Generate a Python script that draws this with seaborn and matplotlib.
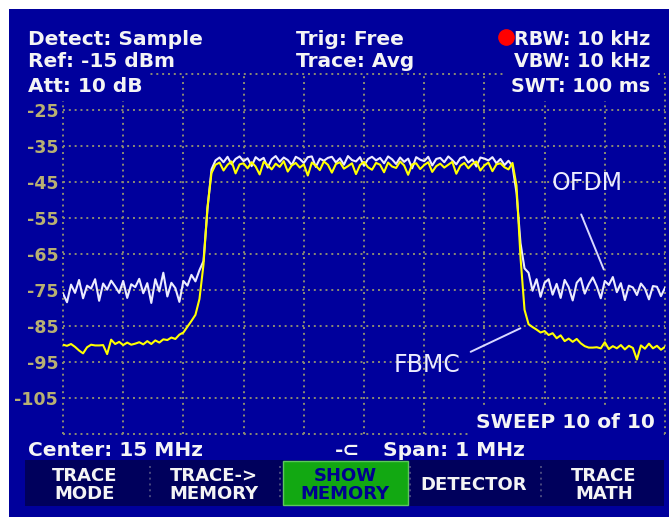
import numpy as np
import pandas as pd
import seaborn as sns
import matplotlib.pyplot as plt
from matplotlib.patches import Rectangle

# sweep: center 15 MHz, span 1 MHz, 151 trace points
freq_mhz = np.linspace(14.5, 15.5, 151)

fbmc_db = [
    -90.2, -90.5, -90.0, -90.8, -91.8, -92.6, -90.9, -90.2, -90.4, -90.4,
    -90.3, -92.8, -88.8, -90.0, -89.4, -90.3, -89.6, -90.2, -89.9, -89.5,
    -90.1, -89.2, -90.0, -89.0, -89.6, -88.7, -88.9, -88.2, -88.6, -87.4,
    -86.8, -85.2, -83.6, -81.9, -77.5, -68.0, -52.0, -42.5, -40.2,
    -39.6, -41.8, -40.2, -39.3, -42.6, -40.1, -39.8, -41.2, -39.5, -40.7,
    -42.9, -39.4, -40.3, -41.5, -39.9, -40.8, -39.2, -42.1, -40.4, -39.7,
    -41.0, -40.1, -43.2, -39.6, -40.5, -41.7, -39.3, -40.2, -42.4, -40.0,
    -39.5, -41.3, -40.6, -39.8, -42.8, -40.3, -39.4, -40.9, -41.6, -39.7,
    -40.2, -42.3, -39.6, -40.7, -41.1, -39.3, -40.4, -43.0, -40.1, -39.8,
    -41.4, -40.3, -39.5, -42.2, -40.6, -39.9, -41.0, -40.2, -39.4, -42.7,
    -40.5, -39.7, -41.2, -40.0, -39.3, -41.8, -40.4, -39.6, -42.0, -40.1,
    -39.8, -40.9, -41.5, -39.7,
    -46.0, -66.0, -80.5,
    -84.5, -85.3, -86.0, -86.8, -86.4, -87.5, -87.0, -88.4, -87.6, -89.2,
    -88.5, -89.4, -88.6, -89.8, -90.6, -91.0, -91.0, -90.9, -91.2, -89.5,
    -91.4, -90.6, -91.2, -90.3, -91.5, -90.5, -91.1, -94.3, -90.4, -91.3,
    -89.9, -91.2, -90.5, -91.6, -90.8,
]

ofdm_db = [
    -76.0, -78.4, -73.5, -75.8, -72.2, -77.3, -73.8, -74.6, -72.0, -78.0,
    -73.2, -74.9, -72.4, -74.0, -75.8, -72.5, -77.2, -73.4, -74.2, -71.9,
    -75.9, -73.1, -78.6, -72.0, -75.4, -70.2, -76.8, -73.0, -74.5, -78.3,
    -72.5, -73.8, -70.8, -72.6, -69.5, -67.0, -52.5, -41.5, -39.0,
    -38.2, -39.5, -38.0, -40.1, -38.6, -37.9, -39.2, -38.4, -40.6, -38.1,
    -39.0, -38.3, -41.0, -38.7, -37.8, -39.4, -38.2, -38.9, -40.3, -38.0,
    -38.6, -39.7, -38.1, -37.9, -40.8, -38.5, -39.1, -38.3, -38.0, -39.6,
    -38.4, -40.2, -37.8, -38.9, -39.3, -38.1, -40.5, -38.6, -38.0, -39.0,
    -38.3, -39.8, -37.9, -38.7, -40.0, -38.2, -39.4, -38.5, -41.2, -38.1,
    -38.8, -39.2, -38.0, -40.4, -38.6, -38.3, -39.5, -37.9, -38.9, -40.1,
    -38.4, -38.0, -39.6, -38.7, -40.7, -38.2, -38.5, -39.0, -38.1, -39.8,
    -38.6, -40.3, -39.1, -40.6,
    -48.0, -62.0, -69.0,
    -70.2, -75.2, -72.0, -76.9, -73.0, -72.0, -76.3, -73.3, -77.2, -72.2,
    -74.2, -77.9, -73.0, -71.7, -76.0, -73.4, -71.5, -74.0, -77.3, -72.5,
    -73.6, -71.4, -75.6, -73.1, -77.8, -73.8, -74.3, -76.4, -73.2, -74.6,
    -77.6, -73.9, -74.1, -76.7, -74.4,
]

level_ticks = list(range(-115, -14, 10))
level_labels = ["" if v in (-115, -15) else str(v) for v in level_ticks]
freq_ticks = np.linspace(14.5, 15.5, 11)

header_left = ["Detect: Sample", "Ref: -15 dBm", "Att: 10 dB"]
header_mid = ["Trig: Free", "Trace: Avg"]
header_right = ["RBW: 10 kHz", "VBW: 10 kHz", "SWT: 100 ms"]
softkeys = ["TRACE\nMODE", "TRACE->\nMEMORY", "SHOW\nMEMORY", "DETECTOR", "TRACE\nMATH"]

BLUE = "#00009c"
NAVY = "#00005c"
GRID = "#8c8c72"
KHAKI = "#b8b072"
WHITE = "#f4f4f4"

W, H = 669, 517


def px(x, y):
    return x / W, 1 - y / H


fig = plt.figure(figsize=(W / 100, H / 100), dpi=100)
fig.patch.set_facecolor("white")
fig.patches.append(Rectangle(px(9, 517), (W - 9) / W, (517 - 9) / H,
                             transform=fig.transFigure, facecolor=BLUE,
                             edgecolor="none", zorder=-10))

ax = fig.add_axes([63 / W, 1 - 434 / H, 602 / W, 360 / H])
ax.set_facecolor(BLUE)
for s in ax.spines.values():
    s.set_visible(False)

ax.vlines(freq_ticks, -115, -15, colors=GRID, linestyles=(0, (1, 2)),
          linewidth=1.4, clip_on=False, zorder=1)
ax.hlines(level_ticks, 14.5, 15.5, colors=GRID, linestyles=(0, (1, 2)),
          linewidth=1.4, clip_on=False, zorder=1)

df = pd.DataFrame({
    "freq": np.concatenate([freq_mhz, freq_mhz]),
    "level": ofdm_db + fbmc_db,
    "trace": ["OFDM"] * len(ofdm_db) + ["FBMC"] * len(fbmc_db),
})
sns.lineplot(data=df, x="freq", y="level", hue="trace",
             hue_order=["OFDM", "FBMC"],
             palette={"OFDM": "#ecebff", "FBMC": "#ffff00"},
             estimator=None, sort=False, linewidth=1.5, legend=False, ax=ax)

ax.set_xlim(14.5, 15.5)
ax.set_ylim(-115, -15)
ax.set_xticks([])
ax.set_yticks(level_ticks)
ax.set_yticklabels(level_labels, color=KHAKI, fontweight="bold", fontsize=12.5)
ax.tick_params(axis="y", length=0, pad=3.5)
ax.set_xlabel("")
ax.set_ylabel("")

# annotations
ax.annotate("", xy=(15.400, -70.0), xytext=(15.359, -53.3),
            arrowprops=dict(arrowstyle="-", color="#d8d8ff", lw=1.4))
ax.text(15.370, -45.3, "OFDM", color="#ececff", fontsize=17,
        ha="center", va="center")
ax.annotate("", xy=(15.264, -85.3), xytext=(15.173, -92.5),
            arrowprops=dict(arrowstyle="-", color="#d8d8ff", lw=1.4))
ax.text(15.105, -95.8, "FBMC", color="#ececff", fontsize=17,
        ha="center", va="center")

box = dict(boxstyle="square,pad=0.25", facecolor=BLUE, edgecolor="none")
hdr = dict(color=WHITE, fontsize=14.5, fontweight="bold", va="baseline")
for txt, yb in zip(header_left, [45, 67, 92]):
    fig.text(*px(28, yb), txt, ha="left", bbox=box if yb > 80 else None, **hdr)
for txt, yb in zip(header_mid, [45, 67]):
    fig.text(*px(296, yb), txt, ha="left", **hdr)
hdr_r = dict(hdr, fontsize=13.8)
for txt, yb in zip(header_right, [45, 67, 92]):
    fig.text(*px(650, yb), txt, ha="right", bbox=box if yb > 80 else None, **hdr_r)
fig.add_artist(plt.Line2D([506 / W], [1 - 37 / H], transform=fig.transFigure,
                          marker="o", markersize=11, color="#ff0000",
                          linestyle="none", zorder=5))

fig.text(*px(655, 428), "SWEEP 10 of 10", ha="right", bbox=box, **hdr)
fig.text(*px(28, 456), "Center: 15 MHz", ha="left", **hdr)
fig.text(*px(335, 456), "-\u2282", ha="left", **hdr)
fig.text(*px(383, 456), "Span: 1 MHz", ha="left", **hdr)

# softkey bar
fig.patches.append(Rectangle(px(25, 506), (664 - 25) / W, 46 / H,
                             transform=fig.transFigure, facecolor=NAVY,
                             edgecolor="none", zorder=1))
fig.patches.append(Rectangle(px(283, 505), 125 / W, 44 / H,
                             transform=fig.transFigure, facecolor="#12a812",
                             edgecolor="#5cc85c", linewidth=1, zorder=2))
for xs in [150, 280, 410, 541]:
    fig.add_artist(plt.Line2D([xs / W, xs / W], [1 - 466 / H, 1 - 500 / H],
                              transform=fig.transFigure, color="#4a4a80",
                              linestyle=(0, (1, 2)), linewidth=1.4, zorder=3))
for txt, xc in zip(softkeys, [85, 214, 345, 474, 604]):
    col = "#000090" if txt.startswith("SHOW") else WHITE
    fig.text(*px(xc, 485), txt, ha="center", va="center", color=col,
             fontsize=13, fontweight="bold", linespacing=1.05, zorder=4)

fig.savefig("out.png", dpi=100)
